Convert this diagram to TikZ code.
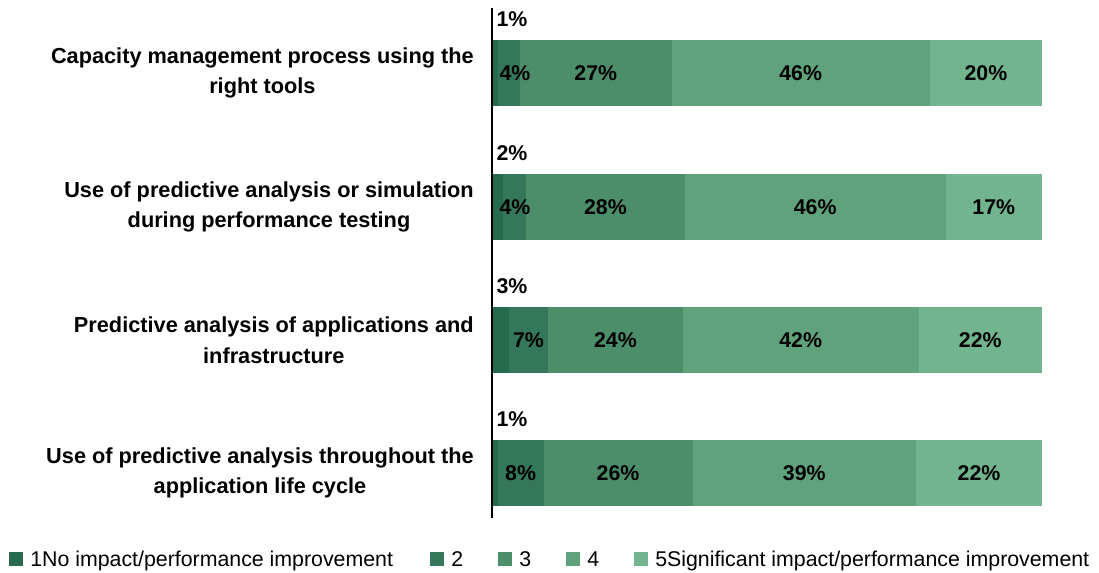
\documentclass[tikz,border=0pt]{standalone}
\usepackage{fontspec}
\setmainfont{Liberation Sans}
\definecolor{lvA}{HTML}{266B4E}
\definecolor{lvB}{HTML}{35775B}
\definecolor{lvC}{HTML}{4C8D6A}
\definecolor{lvD}{HTML}{5FA27C}
\definecolor{lvE}{HTML}{71B48D}
\tikzset{
  cat/.style={anchor=east,align=center,font=\fontsize{16.3}{23}\selectfont\bfseries,inner sep=0pt},
  pct/.style={font=\fontsize{16}{18}\selectfont\bfseries,inner sep=0pt},
  key/.style={anchor=base west,font=\fontsize{16}{17}\selectfont,inner sep=0pt}
}

\begin{document}
\begin{tikzpicture}[x=0.75pt,y=-0.75pt]
  \useasboundingbox (0,0) rectangle (1099,573);
  % bars: centre / five shares
  \foreach \y/\a/\b/\c/\d/\e [count=\i] in {73/1/4/27/46/20,207/2/4/28/46/17,340/3/7/24/42/22,473/1/8/26/39/22}{
    \pgfmathsetmacro\s{550/(\a+\b+\c+\d+\e)}
    \pgfmathsetmacro\xa{492+\a*\s}
    \pgfmathsetmacro\xb{\xa+\b*\s}
    \pgfmathsetmacro\xc{\xb+\c*\s}
    \pgfmathsetmacro\xd{\xc+\d*\s}
    \fill[lvA] (492,\y-33) rectangle (\xa,\y+33);
    \fill[lvB] (\xa,\y-33) rectangle (\xb,\y+33);
    \fill[lvC] (\xb,\y-33) rectangle (\xc,\y+33);
    \fill[lvD] (\xc,\y-33) rectangle (\xd,\y+33);
    \fill[lvE] (\xd,\y-33) rectangle (1042,\y+33);
    \pgfmathsetmacro\mb{max((\xa+\xb)/2,515)}
    \node[pct] (pa\i) at (512,\y-54) {\a\%};
    \node[pct] (pb\i) at (\mb,\y) {\b\%};
    \node[pct] (pc\i) at ({(\xb+\xc)/2},\y) {\c\%};
    \node[pct] (pd\i) at ({(\xc+\xd)/2},\y) {\d\%};
    \node[pct] (pe\i) at ({(\xd+1042)/2},\y) {\e\%};
  }
  \draw[line width=1.5pt] (492,8) -- (492,518);
  % categories
  \node[cat] (capacity) at (474,73) {Capacity management process using the\\right tools};
  \node[cat] (simulation) at (474,207) {Use of predictive analysis or simulation\\during performance testing};
  \node[cat] (infra) at (474,340) {Predictive analysis of applications and\\infrastructure};
  \node[cat] (lifecycle) at (474,473) {Use of predictive analysis throughout the\\application life cycle};
  % legend
  \foreach \x/\c/\t [count=\i] in {9/lvA/{1No impact/performance improvement},430/lvB/2,498/lvC/3,566/lvD/4,634/lvE/{5Significant impact/performance improvement}}{
    \fill[\c] (\x,552) rectangle ++(14,14);
    \node[key] (key\i) at (\x+21,566) {\t};
  }
\end{tikzpicture}
\end{document}
